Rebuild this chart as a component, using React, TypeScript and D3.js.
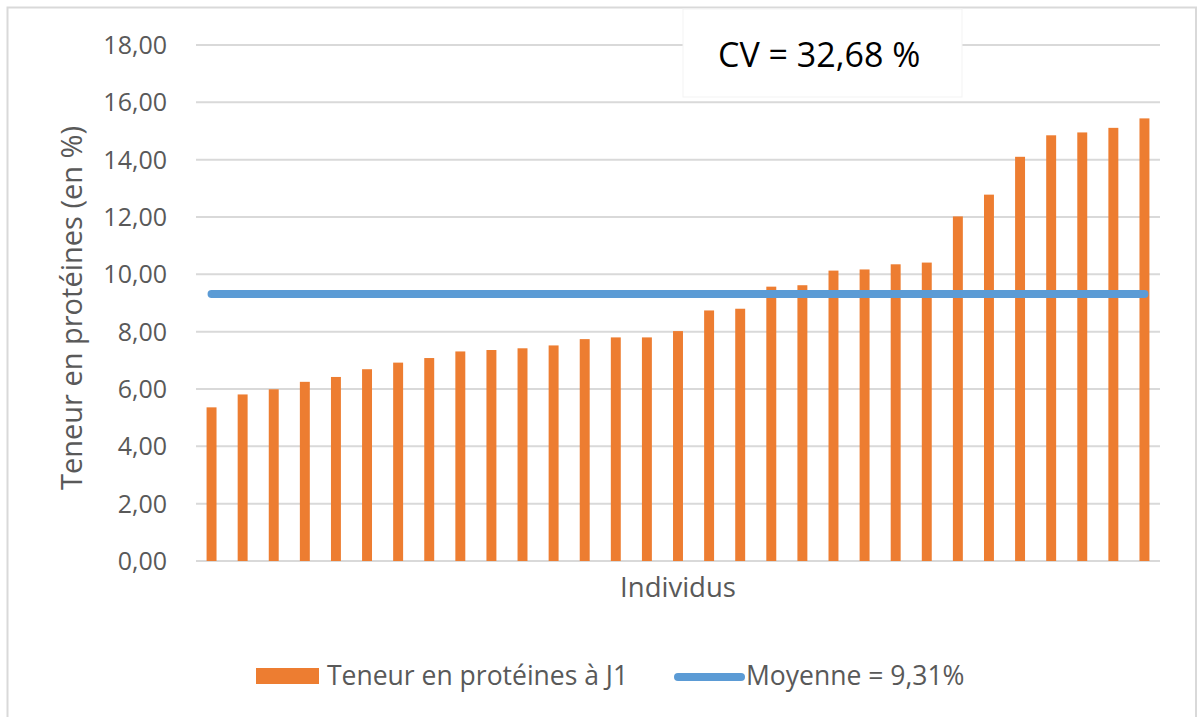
import React from "react";
import * as d3 from "d3";

const individuals: number[] = Array.from({ length: 31 }, (_, i) => i + 1);
const proteinValues: number[] = [
  5.36, 5.81, 5.99, 6.25, 6.42, 6.69, 6.92, 7.08, 7.31, 7.36,
  7.42, 7.52, 7.74, 7.8, 7.8, 8.02, 8.74, 8.8, 9.57, 9.62,
  10.13, 10.17, 10.35, 10.41, 12.02, 12.78, 14.1, 14.85, 14.95, 15.11, 15.44,
];
const meanValue = 9.31;
const yTicks: number[] = [0, 2, 4, 6, 8, 10, 12, 14, 16, 18];
const barLabel = "Teneur en protéines à J1";
const meanLabel = "Moyenne = 9,31%";
const cvLabel = "CV = 32,68 %";
const xTitle = "Individus";
const yTitle = "Teneur en protéines (en %)";

const W = 1197;
const H = 717;
const plotLeft = 196;
const plotRight = 1160;
const plotTop = 45;
const plotBottom = 561;
const FONT = "'Open Sans', 'Liberation Sans', sans-serif";
const TEXT = "#595959";
const ORANGE = "#ED7D31";
const BLUE = "#5B9BD5";
const GRID = "#D9D9D9";

export default function App() {
  const x = d3
    .scaleBand<number>()
    .domain(individuals)
    .range([plotLeft, plotRight])
    .paddingInner(0.68)
    .paddingOuter(0.34);
  const y = d3.scaleLinear().domain([0, 18]).range([plotBottom, plotTop]);
  const fmt = (v: number) => v.toFixed(2).replace(".", ",");

  const first = individuals[0];
  const last = individuals[individuals.length - 1];
  const lineGen = d3
    .line<number>()
    .x((d) => (x(d) as number) + x.bandwidth() / 2)
    .y(() => y(meanValue));

  return (
    <svg
      width={W}
      height={H}
      style={{ position: "absolute", left: 0, top: 0, background: "#fff" }}
    >
      <rect x={0} y={0} width={W} height={H} fill="#fff" />
      <rect
        x={7.5}
        y={7.5}
        width={1188.5}
        height={730}
        fill="#fff"
        stroke={GRID}
        strokeWidth={2}
      />
      {yTicks.map((t) => (
        <g key={t}>
          <line
            x1={plotLeft}
            x2={plotRight}
            y1={y(t)}
            y2={y(t)}
            stroke={GRID}
            strokeWidth={2}
          />
          <text
            x={167}
            y={y(t)}
            dy="0.36em"
            textAnchor="end"
            fontFamily={FONT}
            fontSize={25}
            fill={TEXT}
          >
            {fmt(t)}
          </text>
        </g>
      ))}
      {individuals.map((d, i) => (
        <rect
          key={d}
          x={x(d)}
          y={y(proteinValues[i])}
          width={x.bandwidth()}
          height={y(0) - y(proteinValues[i])}
          fill={ORANGE}
        />
      ))}
      <path
        d={lineGen([first, last]) || ""}
        stroke={BLUE}
        strokeWidth={8}
        strokeLinecap="round"
        fill="none"
      />
      <rect x={683} y={9} width={279} height={88} fill="#fff" stroke="#f3f3f3" strokeWidth={1} />
      <text x={718} y={67} fontFamily={FONT} fontSize={34} fill="#000">
        {cvLabel}
      </text>
      <text
        x={(plotLeft + plotRight) / 2}
        y={597}
        textAnchor="middle"
        fontFamily={FONT}
        fontSize={27.5}
        fill={TEXT}
      >
        {xTitle}
      </text>
      <text
        transform={`translate(82, ${(plotTop + plotBottom) / 2 + 5}) rotate(-90)`}
        textAnchor="middle"
        fontFamily={FONT}
        fontSize={29}
        fill={TEXT}
      >
        {yTitle}
      </text>
      <rect x={256} y={668} width={63} height={16} fill={ORANGE} />
      <text x={327} y={685} fontFamily={FONT} fontSize={26.5} fill={TEXT}>
        {barLabel}
      </text>
      <line
        x1={678}
        x2={741}
        y1={677}
        y2={677}
        stroke={BLUE}
        strokeWidth={8}
        strokeLinecap="round"
      />
      <text x={746} y={685} fontFamily={FONT} fontSize={26.5} fill={TEXT}>
        {meanLabel}
      </text>
    </svg>
  );
}
